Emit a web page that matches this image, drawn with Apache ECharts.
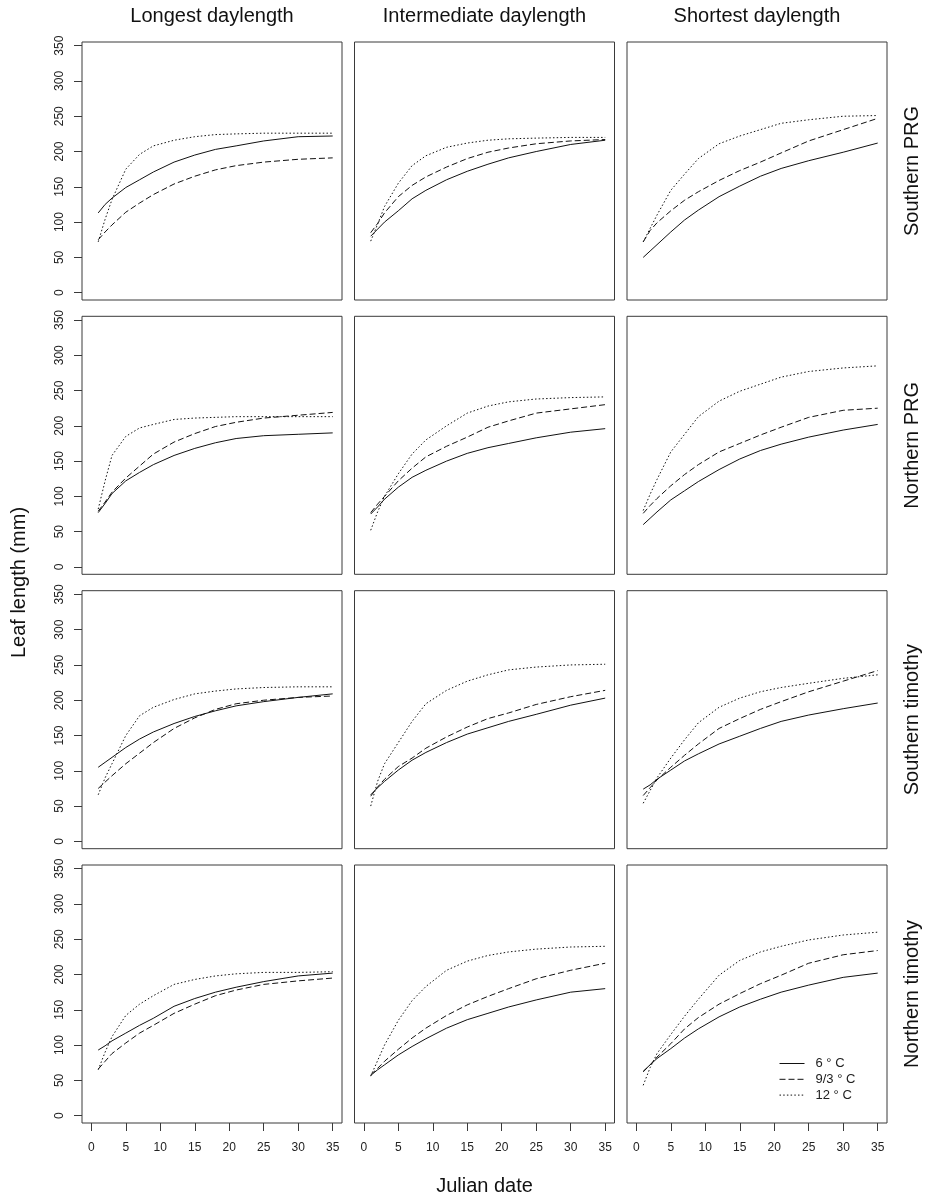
<!DOCTYPE html>
<html>
<head>
<meta charset="utf-8">
<script src="https://cdn.jsdelivr.net/npm/echarts@6/dist/echarts.min.js"></script>
<style>
html,body{margin:0;padding:0;background:#fff;}
#chart{width:926px;height:1199px;}
</style>
</head>
<body>
<div id="chart"></div>
<script>
// ---------- data ----------
const days = [1, 2, 3, 5, 7, 9, 12, 15, 18, 21, 25, 30, 35];
const columnNames = ['Longest daylength', 'Intermediate daylength', 'Shortest daylength'];
const rowNames = ['Southern PRG', 'Northern PRG', 'Southern timothy', 'Northern timothy'];
const tempNames = ['6 ° C', '9/3 ° C', '12 ° C'];
const xTicks = [0, 5, 10, 15, 20, 25, 30, 35];
const yTicks = [0, 50, 100, 150, 200, 250, 300, 350];
const xAxisTitle = 'Julian date';
const yAxisTitle = 'Leaf length (mm)';

// each panel: [6 °C, 9/3 °C, 12 °C]
const southernPRG_longest = [
  [113, 125, 134, 149, 160, 171, 185, 195, 203, 208, 215, 221, 222],
  [75, 86, 96, 114, 127, 139, 154, 165, 174, 180, 185, 189, 191],
  [72, 104, 132, 175, 196, 208, 216, 221, 224, 225, 226, 226, 226]
];
const southernPRG_intermediate = [
  [80, 90, 100, 116, 133, 145, 160, 172, 182, 191, 200, 210, 216],
  [85, 98, 113, 136, 152, 164, 178, 190, 199, 205, 211, 215, 217],
  [73, 97, 122, 155, 180, 194, 206, 212, 216, 218, 219, 220, 220]
];
const southernPRG_shortest = [
  [50, 59, 68, 86, 103, 117, 136, 151, 165, 176, 187, 199, 212],
  [72, 88, 99, 116, 131, 143, 159, 173, 185, 198, 215, 231, 247],
  [72, 91, 110, 145, 168, 190, 211, 222, 231, 240, 245, 250, 251]
];
const northernPRG_longest = [
  [77, 90, 104, 122, 134, 145, 158, 168, 176, 182, 186, 188, 190],
  [79, 92, 106, 126, 143, 160, 177, 189, 199, 205, 211, 215, 219],
  [82, 122, 158, 185, 197, 202, 209, 211, 212, 213, 213, 213, 213]
];
const northernPRG_intermediate = [
  [75, 85, 96, 113, 127, 137, 150, 161, 169, 175, 183, 191, 196],
  [77, 89, 100, 122, 140, 156, 171, 184, 198, 207, 218, 224, 230],
  [52, 78, 100, 132, 160, 180, 200, 218, 228, 234, 238, 240, 241]
];
const northernPRG_shortest = [
  [60, 69, 78, 95, 108, 121, 138, 153, 165, 174, 184, 194, 202],
  [76, 87, 97, 115, 131, 145, 163, 175, 187, 198, 212, 222, 225],
  [80, 103, 124, 163, 188, 213, 235, 249, 259, 269, 277, 282, 285]
];
const southernTimothy_longest = [
  [105, 112, 119, 133, 145, 155, 167, 177, 185, 192, 198, 204, 209],
  [75, 84, 93, 110, 125, 140, 160, 175, 187, 195, 200, 204, 206],
  [66, 90, 110, 150, 178, 190, 201, 209, 213, 216, 218, 219, 219]
];
const southernTimothy_intermediate = [
  [66, 76, 85, 101, 115, 126, 140, 152, 161, 170, 180, 193, 203],
  [64, 77, 88, 106, 118, 132, 148, 162, 174, 182, 194, 205, 214],
  [50, 85, 110, 140, 170, 195, 214, 227, 236, 243, 247, 250, 251]
];
const southernTimothy_shortest = [
  [74, 80, 88, 101, 114, 124, 138, 149, 160, 170, 179, 188, 196],
  [65, 76, 87, 105, 122, 138, 160, 174, 187, 198, 212, 227, 242],
  [54, 72, 90, 118, 144, 168, 190, 203, 212, 218, 224, 231, 236]
];
const northernTimothy_longest = [
  [93, 99, 106, 117, 128, 138, 155, 166, 175, 182, 190, 198, 202],
  [66, 77, 88, 103, 117, 128, 145, 158, 170, 178, 186, 191, 195],
  [65, 90, 112, 142, 158, 170, 186, 193, 198, 201, 203, 203, 204]
];
const northernTimothy_intermediate = [
  [57, 65, 72, 86, 98, 109, 124, 136, 145, 154, 164, 175, 180],
  [58, 67, 77, 94, 110, 124, 142, 157, 169, 180, 194, 206, 216],
  [56, 78, 100, 135, 163, 183, 206, 219, 227, 232, 236, 239, 240]
];
const northernTimothy_shortest = [
  [63, 72, 81, 95, 110, 123, 140, 154, 165, 175, 185, 196, 202],
  [62, 72, 83, 102, 123, 139, 158, 173, 187, 199, 216, 228, 234],
  [43, 68, 88, 115, 141, 165, 199, 220, 232, 240, 249, 256, 260]
];

const panels = [
  [southernPRG_longest, southernPRG_intermediate, southernPRG_shortest],
  [northernPRG_longest, northernPRG_intermediate, northernPRG_shortest],
  [southernTimothy_longest, southernTimothy_intermediate, southernTimothy_shortest],
  [northernTimothy_longest, northernTimothy_intermediate, northernTimothy_shortest]
];

// ---------- layout & style ----------
const FONT = '"Liberation Sans", Arial, sans-serif';
const colLeft = [82, 354.5, 627];
const rowTop = [42, 316.3, 590.7, 865];
const W = 260, H = 258;
const X_MIN = -1.35, X_MAX = 36.35;
const Y_MIN = -10.4, Y_MAX = 355.2;
const lineTypes = ['solid', [6, 3], [1.5, 2.2]];
const ink = '#111';
const frame = '#3a3a3a';

const grids = [], xAxes = [], yAxes = [], series = [];
for (let r = 0; r < 4; r++) {
  for (let c = 0; c < 3; c++) {
    const idx = r * 3 + c;
    grids.push({
      left: colLeft[c], top: rowTop[r], width: W, height: H,
      show: true, borderColor: frame, borderWidth: 1, backgroundColor: 'transparent'
    });
    xAxes.push({
      gridIndex: idx, type: 'value', min: X_MIN, max: X_MAX, position: 'bottom',
      splitLine: { show: false },
      axisLine: { show: false, onZero: false },
      axisTick: { show: r === 3, inside: false, customValues: xTicks, length: 8, lineStyle: { color: frame, width: 1 } },
      axisLabel: { show: r === 3, customValues: xTicks, margin: 19, fontSize: 12, color: '#222', fontFamily: FONT }
    });
    yAxes.push({
      gridIndex: idx, type: 'value', min: Y_MIN, max: Y_MAX, position: 'left',
      splitLine: { show: false },
      axisLine: { show: false, onZero: false },
      axisTick: { show: c === 0, inside: false, customValues: yTicks, length: 8, lineStyle: { color: frame, width: 1 } },
      axisLabel: { show: c === 0, customValues: yTicks, rotate: 90, margin: 16, fontSize: 12, color: '#222', fontFamily: FONT }
    });
    const panel = panels[r][c];
    for (let k = 0; k < 3; k++) {
      series.push({
        type: 'line', name: tempNames[k],
        xAxisIndex: idx, yAxisIndex: idx,
        data: days.map((d, j) => [d, panel[k][j]]),
        symbol: 'none', smooth: false, silent: true,
        lineStyle: { color: ink, width: 1, type: lineTypes[k] },
        itemStyle: { color: ink },
        emphasis: { disabled: true }
      });
    }
  }
}

const graphics = [];
columnNames.forEach((t, c) => {
  graphics.push({
    type: 'text', x: colLeft[c] + W / 2, y: 16,
    style: { text: t, font: '20px ' + FONT, fill: ink, align: 'center', verticalAlign: 'middle' }
  });
});
rowNames.forEach((t, r) => {
  graphics.push({
    type: 'text', x: 912, y: rowTop[r] + H / 2, rotation: Math.PI / 2,
    style: { text: t, font: '20px ' + FONT, fill: ink, align: 'center', verticalAlign: 'middle' }
  });
});
graphics.push({
  type: 'text', x: 19, y: (rowTop[0] + rowTop[3] + H) / 2, rotation: Math.PI / 2,
  style: { text: yAxisTitle, font: '20px ' + FONT, fill: ink, align: 'center', verticalAlign: 'middle' }
});
graphics.push({
  type: 'text', x: (colLeft[0] + colLeft[2] + W) / 2, y: 1186,
  style: { text: xAxisTitle, font: '20px ' + FONT, fill: ink, align: 'center', verticalAlign: 'middle' }
});

const chart = echarts.init(document.getElementById('chart'), null, { renderer: 'canvas' });
chart.setOption({
  backgroundColor: '#fff',
  animation: false,
  grid: grids,
  xAxis: xAxes,
  yAxis: yAxes,
  series: series,
  legend: {
    data: tempNames,
    orient: 'vertical',
    left: 779, top: 1057,
    padding: 0,
    itemWidth: 25, itemHeight: 14, itemGap: 2.8,
    selectedMode: false,
    itemStyle: { opacity: 0 },
    lineStyle: { width: 1 },
    textStyle: { fontSize: 13, color: '#222', fontFamily: FONT, padding: [0, 0, 0, 6] }
  },
  graphic: graphics
});
</script>
</body>
</html>
